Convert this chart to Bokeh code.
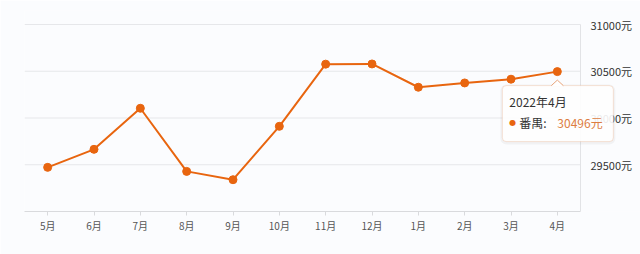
from bokeh.plotting import figure
from bokeh.models import Range1d, FixedTicker, BoxAnnotation, PolyAnnotation, Label
from bokeh.core.properties import value
from bokeh.embed import file_html
from bokeh.resources import INLINE

months = ["5月", "6月", "7月", "8月", "9月", "10月", "11月", "12月", "1月", "2月", "3月", "4月"]
prices = [29472, 29665, 30104, 29429, 29340, 29911, 30576, 30578, 30329, 30375, 30415, 30496]
y_ticks = [29500, 30000, 30500, 31000]
y_min, y_max = 29000, 31000
tip_title = "2022年4月"
tip_series = "番禺:"
tip_value = "30496元"

ORANGE = "#e8650f"
BG = "#fbfcfe"
GRID = "#e6e7ea"
FONT = "Noto Sans CJK SC"
W, H = 640, 254
ML, MT, MB = 24, 10, 43
PLOT_W = 556          # width of the category area
FW = W - ML           # frame spans to the right edge (room for value labels + tooltip)
FH = H - MT - MB
n = len(months)
cat_w = PLOT_W / n
val_per_px = (y_max - y_min) / (211 - 24)
x_end = FW / cat_w
y_end = y_min + FH * val_per_px

xs = [i + 0.5 for i in range(n)]

p = figure(width=W, height=H, x_range=Range1d(0, x_end), y_range=Range1d(y_min, y_end),
           output_backend="svg", toolbar_location=None,
           min_border_left=ML, min_border_right=0, min_border_top=MT, min_border_bottom=MB,
           y_axis_location=None)
p.background_fill_color = BG
p.border_fill_color = BG
p.outline_line_color = None
p.grid.grid_line_color = None

# x axis (category labels)
xa = p.xaxis[0]
xa.bounds = (0, n)
xa.ticker = FixedTicker(ticks=xs)
xa.major_label_overrides = {x: m for x, m in zip(xs, months)}
xa.axis_line_color = "#d9dadd"
xa.major_tick_line_color = "#d9dadd"
xa.major_tick_out = 4
xa.major_tick_in = 0
xa.minor_tick_line_color = None
xa.major_label_standoff = 2
xa.major_label_text_font = FONT
xa.major_label_text_font_size = "10px"
xa.major_label_text_color = "#555555"

# horizontal grid lines and right value axis
p.segment(x0=[0] * len(y_ticks), x1=[n] * len(y_ticks), y0=y_ticks, y1=y_ticks,
          line_color=GRID, line_width=1)
p.segment(x0=[n], x1=[n], y0=[y_min], y1=[y_max], line_color="#e2e3e6", line_width=1)
p.text(x=[n] * len(y_ticks), y=y_ticks, text=[f"{t}元" for t in y_ticks], x_offset=10,
       text_baseline="middle", text_align="left", text_font=value(FONT),
       text_font_size="11px", text_color="#333333")

# series
p.line(xs, prices, line_color=ORANGE, line_width=2)
p.scatter(xs, prices, size=8, fill_color=ORANGE, line_color=ORANGE)

# tooltip anchored at last point
ax = xs[-1]
ay = prices[-1]
def dx(px):
    return ax + px / cat_w
def dy(px):
    return ay - px * val_per_px

TIP_BORDER = "#eaa57a"
p.add_layout(BoxAnnotation(left=dx(-57), right=dx(58), top=dy(13), bottom=dy(73),
                           fill_color="#000000", fill_alpha=0.04, line_color=None,
                           border_radius=6))
p.add_layout(BoxAnnotation(left=dx(-55), right=dx(56), top=dy(14), bottom=dy(70),
                           fill_color="white", fill_alpha=0.9, line_color=TIP_BORDER,
                           line_width=1, border_radius=4))
p.add_layout(PolyAnnotation(xs=[dx(-6), dx(0), dx(6)], ys=[dy(14.7), dy(8.5), dy(14.7)],
                            fill_color="white", fill_alpha=1, line_color=None))
p.segment(x0=[dx(-6), dx(0)], y0=[dy(14), dy(8.5)], x1=[dx(0), dx(6)], y1=[dy(8.5), dy(14)],
          line_color=TIP_BORDER, line_width=1, level="overlay")

p.add_layout(Label(x=ax, y=ay, x_offset=-48, y_offset=-30, text=tip_title,
                   text_font=FONT, text_font_size="12px", text_color="#333333",
                   text_baseline="middle"))
p.add_layout(Label(x=ax, y=ay, x_offset=-38, y_offset=-51, text=tip_series,
                   text_font=FONT, text_font_size="12px", text_color="#333333",
                   text_baseline="middle"))
p.add_layout(Label(x=ax, y=ay, x_offset=0, y_offset=-51, text=tip_value,
                   text_font=FONT, text_font_size="12px", text_color="#dd7d42",
                   text_baseline="middle"))
p.add_layout(Label(x=ax, y=ay, x_offset=-48, y_offset=-51, text="●",
                   text_font="DejaVu Sans", text_font_size="8px", text_color=ORANGE,
                   text_baseline="middle"))

open("out.html", "w").write(file_html(p, INLINE))
